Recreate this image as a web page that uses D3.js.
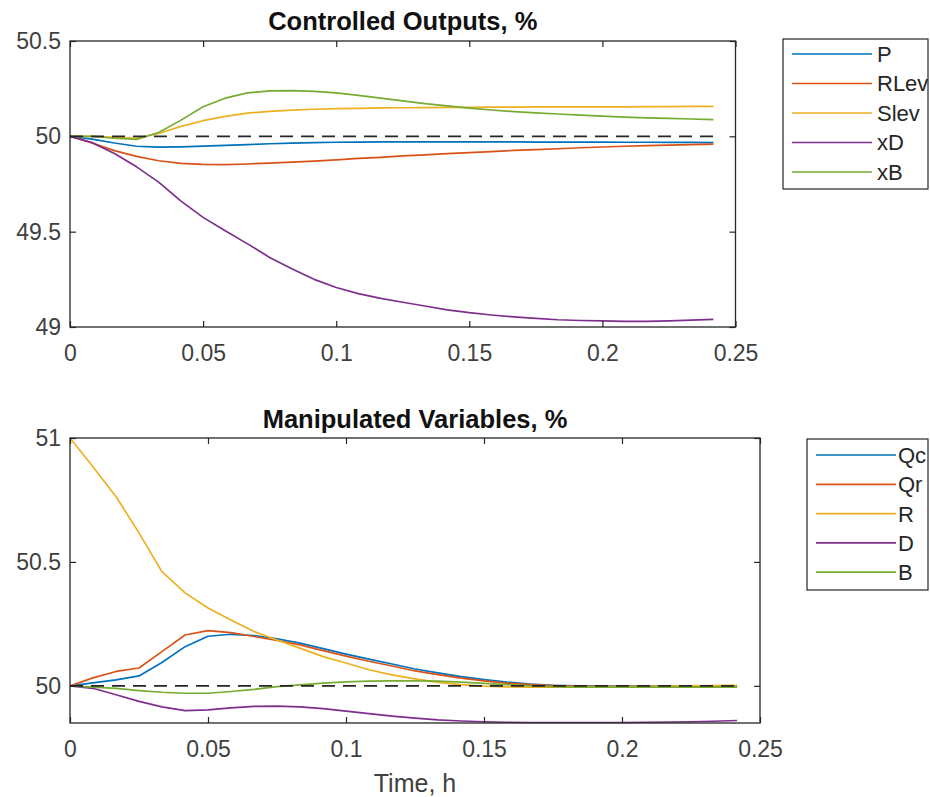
<!DOCTYPE html>
<html>
<head>
<meta charset="utf-8">
<script src="https://cdn.jsdelivr.net/npm/d3@7"></script>
<style>
  html, body { margin: 0; padding: 0; background: #fff; }
  svg { display: block; }
  text { font-family: "Liberation Sans", Arial, Helvetica, sans-serif; }
</style>
</head>
<body>
<svg id="chart" width="930" height="797"></svg>
<script>
// ---- Data ----
const time = [0, 0.0083, 0.0167, 0.025, 0.0333, 0.0417, 0.05, 0.0583, 0.0667, 0.075,
  0.0833, 0.0917, 0.1, 0.1083, 0.1167, 0.125, 0.1333, 0.1417, 0.15, 0.1583,
  0.1667, 0.175, 0.1833, 0.1917, 0.2, 0.2083, 0.2167, 0.225, 0.2333, 0.2417];

// Controlled outputs
const P    = [50, 49.985, 49.965, 49.948, 49.943, 49.945, 49.949, 49.953, 49.957, 49.961,
  49.964, 49.967, 49.969, 49.97, 49.971, 49.971, 49.971, 49.971, 49.971, 49.971,
  49.971, 49.97, 49.97, 49.97, 49.97, 49.969, 49.969, 49.968, 49.968, 49.967];
const RLev = [50, 49.965, 49.925, 49.895, 49.872, 49.858, 49.853, 49.852, 49.855, 49.86,
  49.865, 49.87, 49.877, 49.884, 49.89, 49.897, 49.903, 49.909, 49.915, 49.92,
  49.926, 49.93, 49.935, 49.94, 49.944, 49.948, 49.951, 49.954, 49.957, 49.959];
const Slev = [50, 50.0, 49.995, 49.99, 50.015, 50.052, 50.082, 50.105, 50.122, 50.131,
  50.137, 50.142, 50.145, 50.147, 50.149, 50.15, 50.151, 50.152, 50.152, 50.153,
  50.153, 50.154, 50.154, 50.155, 50.155, 50.155, 50.156, 50.156, 50.157, 50.157];
const xD   = [50, 49.967, 49.91, 49.84, 49.76, 49.66, 49.575, 49.505, 49.436, 49.365,
  49.305, 49.25, 49.207, 49.175, 49.15, 49.13, 49.11, 49.09, 49.075, 49.063,
  49.053, 49.045, 49.038, 49.034, 49.032, 49.03, 49.03, 49.032, 49.036, 49.04];
const xB   = [50, 50.0, 49.99, 49.984, 50.02, 50.085, 50.155, 50.2, 50.228, 50.238,
  50.24, 50.236, 50.228, 50.215, 50.2, 50.186, 50.172, 50.16, 50.148, 50.138,
  50.13, 50.123, 50.117, 50.111, 50.106, 50.101, 50.097, 50.094, 50.091, 50.088];

// Manipulated variables
const Qc = [50, 50.012, 50.024, 50.04, 50.094, 50.158, 50.2, 50.208, 50.203, 50.19,
  50.172, 50.15, 50.128, 50.108, 50.088, 50.068, 50.052, 50.037, 50.025, 50.015,
  50.007, 50.002, 50.0, 49.999, 49.999, 49.999, 49.999, 49.999, 49.999, 49.999];
const Qr = [50, 50.032, 50.058, 50.072, 50.138, 50.205, 50.223, 50.215, 50.199, 50.183,
  50.165, 50.142, 50.12, 50.099, 50.08, 50.06, 50.045, 50.031, 50.02, 50.011,
  50.005, 50.001, 49.999, 49.998, 49.998, 49.998, 49.998, 49.999, 49.999, 50.0];
const R  = [51, 50.884, 50.763, 50.617, 50.461, 50.375, 50.314, 50.266, 50.219, 50.185,
  50.152, 50.118, 50.092, 50.065, 50.044, 50.028, 50.014, 50.005, 49.999, 49.996,
  49.995, 49.995, 49.995, 49.996, 49.997, 49.998, 49.999, 50.0, 50.001, 50.002];
const D  = [50, 49.99, 49.964, 49.937, 49.915, 49.9, 49.903, 49.911, 49.917, 49.918,
  49.915, 49.908, 49.898, 49.888, 49.878, 49.87, 49.863, 49.858, 49.855, 49.853,
  49.852, 49.852, 49.852, 49.852, 49.852, 49.853, 49.854, 49.855, 49.857, 49.86];
const B  = [50, 49.995, 49.99, 49.981, 49.974, 49.97, 49.97, 49.977, 49.986, 49.997,
  50.004, 50.011, 50.016, 50.019, 50.02, 50.02, 50.019, 50.015, 50.01, 50.005,
  50.0, 49.997, 49.995, 49.995, 49.995, 49.995, 49.995, 49.995, 49.995, 49.995];

const outputNames = ["P", "RLev", "Slev", "xD", "xB"];
const outputSeries = [P, RLev, Slev, xD, xB];
const mvNames = ["Qc", "Qr", "R", "D", "B"];
const mvSeries = [Qc, Qr, R, D, B];
const colors = ["#0072BD", "#D95319", "#EDB120", "#7E2F8E", "#77AC30"];

const xTicks = [0, 0.05, 0.1, 0.15, 0.2, 0.25];
const xTickLabels = ["0", "0.05", "0.1", "0.15", "0.2", "0.25"];
const yTicksTop = [49, 49.5, 50, 50.5];
const yTickLabelsTop = ["49", "49.5", "50", "50.5"];
const yTicksBot = [50, 50.5, 51];
const yTickLabelsBot = ["50", "50.5", "51"];

const titles = ["Controlled Outputs, %", "Manipulated Variables, %"];
const xLabel = "Time, h";
const reference = 50;

// ---- Drawing ----
const svg = d3.select("#chart");
const AXIS = "#262626";
const TICKTXT = "#404040";

function panel(cfg) {
  const x = d3.scaleLinear().domain([0, 0.25]).range([cfg.left, cfg.right]);
  const y = d3.scaleLinear().domain(cfg.yDomain).range([cfg.bottom, cfg.top]);
  const g = svg.append("g");

  // data lines
  const line = d3.line().x((d, i) => x(time[i])).y(d => y(d));
  const clipId = "clip" + cfg.id;
  svg.append("clipPath").attr("id", clipId).append("rect")
    .attr("x", cfg.left).attr("y", cfg.top - 1)
    .attr("width", cfg.right - cfg.left).attr("height", cfg.bottom - cfg.top + 2);
  const lines = g.append("g").attr("clip-path", `url(#${clipId})`);
  cfg.series.forEach((s, k) => {
    lines.append("path").datum(s)
      .attr("fill", "none").attr("stroke", colors[k])
      .attr("stroke-width", 1.7).attr("stroke-linejoin", "round")
      .attr("d", line);
  });
  // reference dashed line
  lines.append("path")
    .datum([time[0], time[time.length - 1]])
    .attr("fill", "none").attr("stroke", AXIS).attr("stroke-width", 1.8)
    .attr("stroke-dasharray", "13,8")
    .attr("d", d3.line().x(t => x(t)).y(() => y(reference)));

  // axes
  const fmtX = (d) => xTickLabels[xTicks.indexOf(d)];
  const fmtY = (d) => cfg.yLabels[cfg.yTicks.indexOf(d)];
  const styleAxis = (sel) => {
    sel.select(".domain").remove();
    sel.selectAll(".tick line").attr("stroke", AXIS).attr("stroke-width", 1.2);
    sel.selectAll(".tick text").attr("fill", TICKTXT)
      .style("font-size", "23px").style("font-family", '"Liberation Sans", Arial, sans-serif');
  };
  g.append("g").attr("transform", `translate(0,${cfg.bottom})`)
    .call(d3.axisBottom(x).tickValues(xTicks).tickFormat(fmtX).tickSize(-6).tickPadding(18))
    .call(styleAxis);
  g.append("g").attr("transform", `translate(0,${cfg.top})`)
    .call(d3.axisTop(x).tickValues(xTicks).tickFormat("").tickSize(-6))
    .call(styleAxis);
  g.append("g").attr("transform", `translate(${cfg.left},0)`)
    .call(d3.axisLeft(y).tickValues(cfg.yTicks).tickFormat(fmtY).tickSize(-6).tickPadding(9))
    .call(styleAxis);
  g.append("g").attr("transform", `translate(${cfg.right},0)`)
    .call(d3.axisRight(y).tickValues(cfg.yTicks).tickFormat("").tickSize(-6))
    .call(styleAxis);

  // box
  g.append("rect")
    .attr("x", cfg.left).attr("y", cfg.top)
    .attr("width", cfg.right - cfg.left).attr("height", cfg.bottom - cfg.top)
    .attr("fill", "none").attr("stroke", AXIS).attr("stroke-width", 1.3);

  // title
  g.append("text")
    .attr("x", (cfg.left + cfg.right) / 2).attr("y", cfg.titleY)
    .attr("text-anchor", "middle").attr("fill", "#111")
    .style("font-size", "25.5px").style("font-weight", "bold")
    .text(cfg.title);

  // legend
  const L = cfg.legend;
  const lg = g.append("g");
  lg.append("rect")
    .attr("x", L.x).attr("y", L.y).attr("width", L.w).attr("height", L.h)
    .attr("fill", "#fff").attr("stroke", AXIS).attr("stroke-width", 1.2);
  cfg.names.forEach((n, k) => {
    const yy = L.y + L.first + k * L.step;
    lg.append("line")
      .attr("x1", L.lx1).attr("x2", L.lx2).attr("y1", yy).attr("y2", yy)
      .attr("stroke", colors[k]).attr("stroke-width", 1.7);
    lg.append("text")
      .attr("x", L.tx).attr("y", yy).attr("dy", "0.36em")
      .attr("fill", "#262626").style("font-size", "22px")
      .text(n);
  });
  return { x, y };
}

panel({
  id: 1, left: 70, right: 735.5, top: 41, bottom: 327,
  yDomain: [49, 50.5], yTicks: yTicksTop, yLabels: yTickLabelsTop,
  series: outputSeries, names: outputNames, title: titles[0], titleY: 29.5,
  legend: { x: 783, y: 39, w: 145, h: 150, first: 15, step: 29.5, lx1: 792, lx2: 872, tx: 877 }
});

panel({
  id: 2, left: 70, right: 760, top: 438, bottom: 723,
  yDomain: [49.85, 51], yTicks: yTicksBot, yLabels: yTickLabelsBot,
  series: mvSeries, names: mvNames, title: titles[1], titleY: 428,
  legend: { x: 807, y: 439, w: 121, h: 151, first: 16, step: 29.3, lx1: 816, lx2: 896, tx: 898 }
});

svg.append("text")
  .attr("x", 415).attr("y", 792)
  .attr("text-anchor", "middle").attr("fill", TICKTXT)
  .style("font-size", "25px")
  .text(xLabel);
</script>
</body>
</html>
